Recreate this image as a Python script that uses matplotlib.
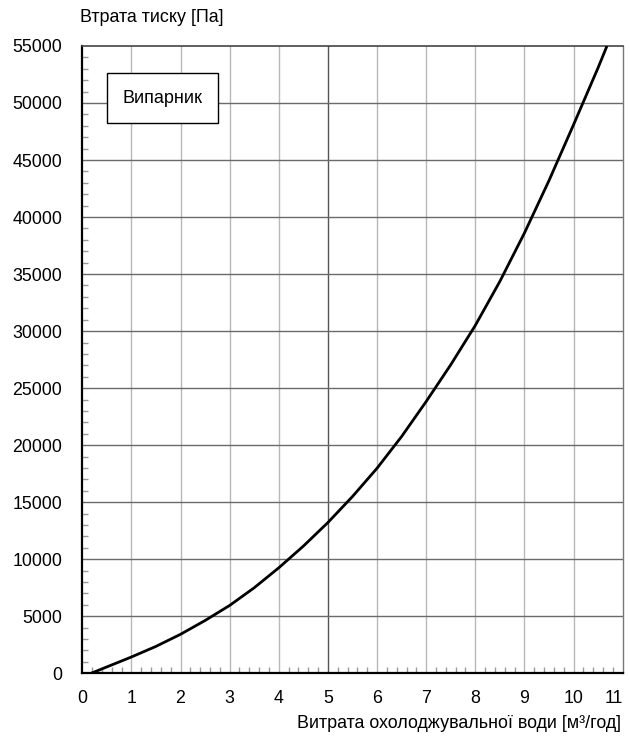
import matplotlib
matplotlib.use("Agg")
import matplotlib.pyplot as plt
from matplotlib.patches import Rectangle
from matplotlib.ticker import MultipleLocator

plt.rcParams['font.family'] = ['Liberation Sans', 'DejaVu Sans']

# Evaporator pressure-drop curve
flow = [0.18, 0.5, 1.0, 1.5, 2.0, 2.5, 3.0, 3.5, 4.0, 4.5, 5.0, 5.5, 6.0,
        6.5, 7.0, 7.5, 8.0, 8.5, 9.0, 9.5, 10.0, 10.5, 10.68]
pressure_drop = [0, 560, 1430, 2360, 3420, 4630, 5950, 7500, 9250, 11150,
                 13220, 15500, 17980, 20760, 23830, 27050, 30500, 34360,
                 38600, 43200, 48100, 53100, 55000]

x_ticks = list(range(0, 12))
y_ticks = list(range(0, 55001, 5000))
y_label = "Втрата тиску [Па]"
x_label = "Витрата охолоджувальної води [м³/год]"
box_label = "Випарник"

fig = plt.figure(figsize=(6.30, 7.39), dpi=100)
ax = fig.add_axes([0.1306, 0.0889, 0.8578, 0.8489])

ax.set_xlim(0, 11)
ax.set_ylim(0, 55000)

# grid: vertical light, horizontal darker, x=5 emphasised
for xv in x_ticks[1:-1]:
    ax.axvline(xv, color='#555555' if xv == 5 else '#b8b8b8', lw=1.0, zorder=1)
for yv in y_ticks[1:-1]:
    ax.axhline(yv, color='#6a6a6a', lw=1.0, zorder=1)

ax.plot(flow, pressure_drop, color='black', lw=2.0, zorder=3,
        solid_capstyle='butt', solid_joinstyle='round')

ax.set_xticks(x_ticks)
ax.set_yticks(y_ticks)
ax.xaxis.set_minor_locator(MultipleLocator(0.2))
ax.yaxis.set_minor_locator(MultipleLocator(1000))
ax.tick_params(which='major', length=0, labelsize=12.8, colors='black')
ax.tick_params(axis='y', which='major', pad=14.4)
ax.tick_params(axis='x', which='major', pad=12)
ax.tick_params(which='minor', direction='in', length=4, width=1,
               color='#999999')
ax.tick_params(axis='x', which='minor', top=False)
ax.tick_params(axis='y', which='minor', right=False)
ax.get_xticklabels()[-1].set_horizontalalignment('right')

for side in ('left', 'bottom'):
    ax.spines[side].set_color('black')
    ax.spines[side].set_linewidth(1.6)
ax.spines['top'].set_color('#444444')
ax.spines['top'].set_linewidth(1.2)
ax.spines['right'].set_color('#777777')
ax.spines['right'].set_linewidth(1.0)

fig.text(80 / 630, 1 - 18 / 739, y_label, fontsize=12.9, ha='left',
         va='center')
fig.text(621 / 630, 1 - 723 / 739, x_label, fontsize=12.9, ha='right',
         va='center')

# label box
ax.add_patch(Rectangle((0.0457, 0.877), 0.2054, 0.0797,
                       transform=ax.transAxes, facecolor='white',
                       edgecolor='black', lw=1.0, zorder=4))
ax.text(0.0457 + 0.2054 / 2, 0.877 + 0.0797 / 2, box_label,
        transform=ax.transAxes, ha='center', va='center', fontsize=13,
        zorder=5)

fig.savefig('out.png', dpi=100)
